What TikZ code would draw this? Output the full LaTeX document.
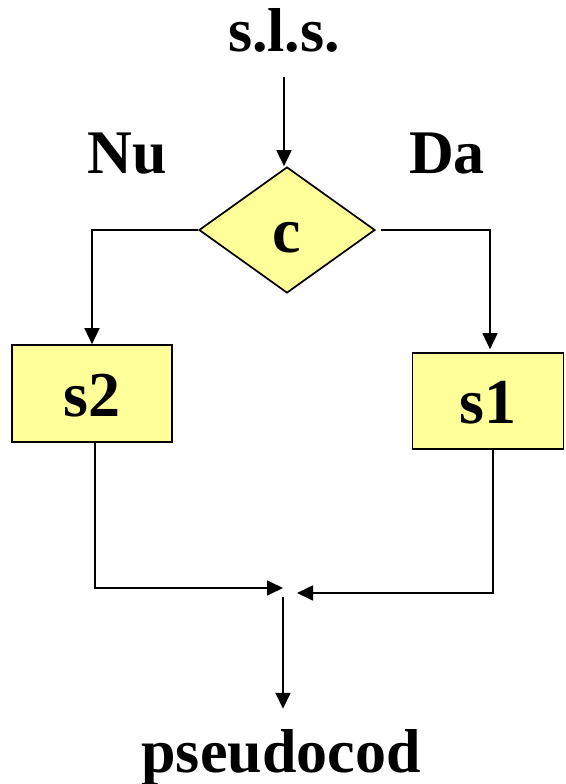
\documentclass[tikz,border=0pt]{standalone}
\usepackage{fontspec}
\setmainfont{Liberation Serif}
\usetikzlibrary{shapes.geometric,arrows.meta}

\definecolor{boxfill}{RGB}{255,255,153}

\tikzset{
  flow/.style={-{Triangle[length=16pt,width=15pt]}, line width=1.7pt},
  word/.style={font=\fontsize{62}{70}\selectfont\bfseries, inner sep=0pt, anchor=base},
  instr/.style={draw, line width=1.7pt, fill=boxfill, inner sep=0pt,
    text height=45pt, text depth=0pt,
    font=\fontsize{64}{70}\selectfont\bfseries},
}

\begin{document}
\begin{tikzpicture}[x=1pt,y=-1pt]
    \useasboundingbox (0,0) rectangle (565,784);

    % texts
    \node[word] (sls) at (284,52) {s.l.s.};
    \node[word] (nu) at (127,173) {Nu};
    \node[word] (da) at (447,173) {Da};
    \node[word] (pcod) at (281,772) {pseudocod};

    % condition and the two branches
    \node[instr, diamond, aspect=1.4, minimum width=176pt, minimum height=126pt] (c) at (287,230) {c};
    \node[instr, minimum width=160pt, minimum height=97pt] (s2) at (92,393.5) {s2};
    \node[instr, minimum width=151pt, minimum height=96pt] (s1) at (488,401) {s1};

    % where the branches meet
    \coordinate (inL) at (283,588);
    \coordinate (inR) at (297,593);
    \coordinate (out) at (283,597);

    % lines
    \draw[flow, shorten <=24pt] (sls.south) -- (sls.south |- c.north);
    \draw[flow] (c.west) -| (s2.north);
    \draw[flow, shorten <=5pt, shorten >=3pt] (c.east) -| ([xshift=2pt]s1.north);
    \draw[flow] ([xshift=3pt]s2.south) |- (inL);
    \draw[flow] ([xshift=5pt]s1.south) |- (inR);
    \draw[flow, shorten >=20pt] (out) -- (out |- pcod.north);
\end{tikzpicture}
\end{document}
